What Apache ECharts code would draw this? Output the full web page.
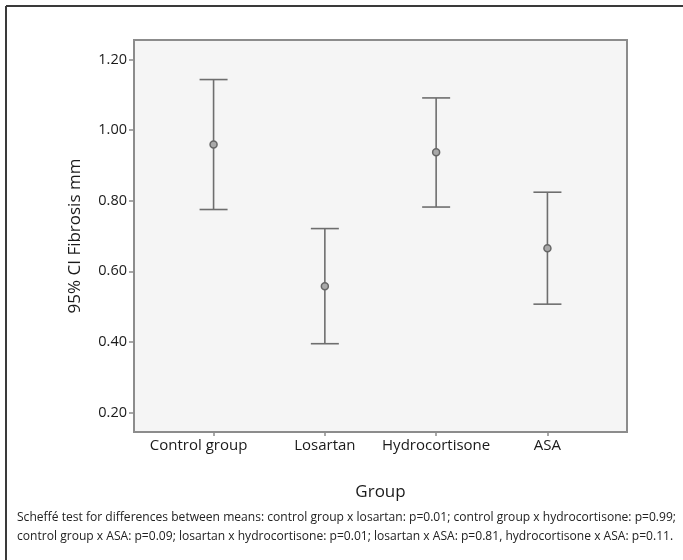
<!DOCTYPE html>
<html>
<head>
<meta charset="utf-8">
<script src="https://cdn.jsdelivr.net/npm/echarts@6/dist/echarts.min.js"></script>
<style>
html,body{margin:0;padding:0;background:#fff;}
#chart{width:683px;height:560px;}
</style>
</head>
<body>
<div id="chart"></div>
<script>
// Data
var categories = ['Control group', 'Losartan', 'Hydrocortisone', 'ASA'];
var means = [0.959, 0.558, 0.937, 0.665];
var ciLower = [0.775, 0.395, 0.782, 0.507];
var ciUpper = [1.143, 0.721, 1.091, 0.824];
var yTicks = [0.2, 0.4, 0.6, 0.8, 1.0, 1.2];
var xTicks = [0, 1, 2, 3];
var captionLines = [
  'Scheffé test for differences between means: control group x losartan: p=0.01; control group x hydrocortisone: p=0.99;',
  'control group x ASA: p=0.09; losartan x hydrocortisone: p=0.01; losartan x ASA: p=0.81, hydrocortisone x ASA: p=0.11.'
];

var errData = categories.map(function (c, i) { return [i, ciLower[i], ciUpper[i]]; });
var meanData = categories.map(function (c, i) { return [i, means[i]]; });

var FONT = '"Open Sans", "Noto Sans", sans-serif';
var CAP_FONT_SIZE = 12.5;
// horizontal compression so the caption spans the same width as the reference
var ctx = document.createElement('canvas').getContext('2d');
ctx.font = CAP_FONT_SIZE + 'px "Open Sans"';
var capW = ctx.measureText(captionLines[0]).width;
var capScale = 659 / capW;

var chart = echarts.init(document.getElementById('chart'), null, {renderer: 'canvas'});

var option = {
  animation: false,
  backgroundColor: '#ffffff',
  grid: {
    left: 134, top: 40, right: 56, bottom: 128,
    show: true,
    backgroundColor: '#f5f5f5',
    borderColor: '#8c8c8c',
    borderWidth: 2
  },
  xAxis: {
    type: 'value',
    min: -0.715,
    max: 3.715,
    name: 'Group',
    nameLocation: 'middle',
    nameGap: 52,
    nameTextStyle: {fontFamily: FONT, fontSize: 17, color: '#1a1a1a'},
    axisLine: {show: false, onZero: false},
    splitLine: {show: false},
    axisTick: {show: true, customValues: xTicks, length: 4, lineStyle: {color: '#8c8c8c', width: 1.5}},
    axisLabel: {
      customValues: xTicks,
      margin: 6,
      fontFamily: FONT, fontSize: 15, color: '#1a1a1a',
      formatter: function (v) {
        var i = Math.round(v);
        return i === 0 ? '{shift|' + categories[i] + '}' : categories[i];
      },
      rich: {
        shift: {fontFamily: FONT, fontSize: 15, color: '#1a1a1a', padding: [0, 30, 0, 0]}
      }
    }
  },
  yAxis: {
    type: 'value',
    min: 0.145,
    max: 1.255,
    name: '95% CI Fibrosis mm',
    nameLocation: 'middle',
    nameGap: 50,
    nameTextStyle: {fontFamily: FONT, fontSize: 17, color: '#1a1a1a'},
    axisLine: {show: false, onZero: false},
    splitLine: {show: false},
    axisTick: {show: true, customValues: yTicks, length: 5, lineStyle: {color: '#8c8c8c', width: 1.5}},
    axisLabel: {
      customValues: yTicks,
      margin: 7,
      fontFamily: FONT, fontSize: 14.5, color: '#1a1a1a',
      formatter: function (v) { return v.toFixed(2); }
    }
  },
  series: [
    {
      type: 'custom',
      data: errData,
      renderItem: function (params, api) {
        var x = api.value(0);
        var lo = api.coord([x, api.value(1)]);
        var hi = api.coord([x, api.value(2)]);
        var hw = 14;
        var style = {stroke: '#6e6e6e', lineWidth: 1.6, fill: null};
        return {
          type: 'group',
          children: [
            {type: 'line', shape: {x1: hi[0], y1: hi[1], x2: lo[0], y2: lo[1]}, style: style},
            {type: 'line', shape: {x1: hi[0] - hw, y1: hi[1], x2: hi[0] + hw, y2: hi[1]}, style: style},
            {type: 'line', shape: {x1: lo[0] - hw, y1: lo[1], x2: lo[0] + hw, y2: lo[1]}, style: style}
          ]
        };
      },
      z: 2
    },
    {
      type: 'scatter',
      data: meanData,
      symbol: 'circle',
      symbolSize: 7,
      itemStyle: {color: '#a9a9a9', borderColor: '#666666', borderWidth: 1.5, opacity: 1},
      z: 3
    }
  ],
  graphic: [
    {type: 'line', shape: {x1: 6, y1: 6, x2: 683, y2: 6}, style: {stroke: '#3a3a3a', lineWidth: 2}},
    {type: 'line', shape: {x1: 6, y1: 6, x2: 6, y2: 560}, style: {stroke: '#3a3a3a', lineWidth: 2}},
    {type: 'text', x: 17, y: 511, scaleX: capScale, style: {text: captionLines[0], fontFamily: '"Open Sans"', fontSize: CAP_FONT_SIZE, fill: '#222'}},
    {type: 'text', x: 17, y: 530, scaleX: capScale, style: {text: captionLines[1], fontFamily: '"Open Sans"', fontSize: CAP_FONT_SIZE, fill: '#222'}}
  ]
};
chart.setOption(option);
</script>
</body>
</html>
